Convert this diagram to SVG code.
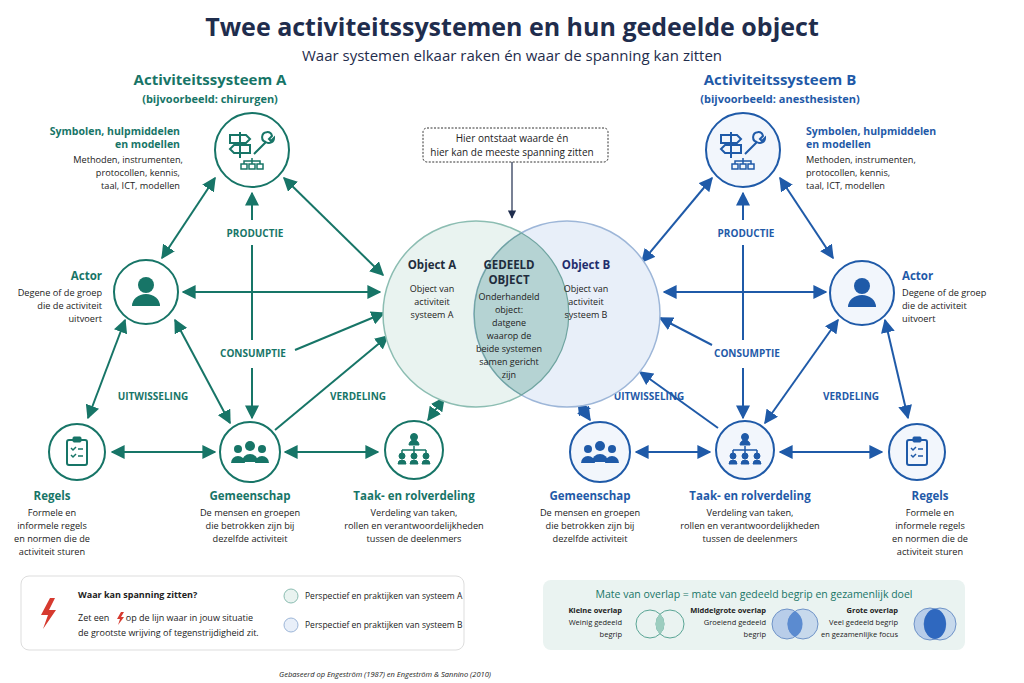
<svg xmlns="http://www.w3.org/2000/svg" width="1024" height="683" viewBox="0 0 1024 683">
<defs>
<marker id="ta" viewBox="0 0 10 10" refX="9" refY="5" markerWidth="7" markerHeight="7" orient="auto-start-reverse"><path d="M0,0 L10,5 L0,10 z" fill="#177567"/></marker>
<marker id="ba" viewBox="0 0 10 10" refX="9" refY="5" markerWidth="7" markerHeight="7" orient="auto-start-reverse"><path d="M0,0 L10,5 L0,10 z" fill="#1f5aa8"/></marker>
<marker id="ka" viewBox="0 0 10 10" refX="9" refY="5" markerWidth="7" markerHeight="7" orient="auto"><path d="M0,0 L10,5 L0,10 z" fill="#1f2d4d"/></marker>
<style>
text{font-family:"Open Sans","Liberation Sans",sans-serif;fill:#222}
.t{fill:#177567;font-weight:bold}
.b{fill:#1f5aa8;font-weight:bold}
.s{font-size:9.2px}
.ct{stroke:#177567;stroke-width:2;fill:none}
.nt{fill:#fff;stroke:#177567;stroke-width:2}
.nb{fill:#f2f6fc;stroke:#1f5aa8;stroke-width:2}
.lt{stroke:#177567;stroke-width:2;marker-start:url(#ta);marker-end:url(#ta)}
.lb{stroke:#1f5aa8;stroke-width:2;marker-start:url(#ba);marker-end:url(#ba)}
.et{stroke:#177567;stroke-width:2;marker-end:url(#ta)}
.eb{stroke:#1f5aa8;stroke-width:2;marker-end:url(#ba)}
</style>
<g id="tools">
<path d="M-12,-16 v26 M-22,-13 h16 l4,4 l-4,4 h-16 z M-2,-3 h-16 l-4,4 l4,4 h16 z" stroke-width="2" fill="none"/>
<path d="M2,6 L14,-6 M14,-6 a5,5 0 1 1 6,-6 l-3,3 l2,2 l3,-3 a5,5 0 0 1 -8,4" stroke-width="2" fill="none"/>
<path d="M2,16 v-3 h16 v3 M10,10 v6 M-1,16 h6 v5 h-6z M7,16 h6 v5 h-6z M15,16 h6 v5 h-6z" stroke-width="1.5" fill="none" transform="translate(-10,0)"/>
</g>
<g id="person"><circle cx="0" cy="-7" r="8"/><path d="M-14,14 a14,12 0 0 1 28,0 z"/></g>
<g id="group"><circle cx="0" cy="-6" r="5"/><path d="M-8,10 a8,8 0 0 1 16,0z"/><circle cx="-12" cy="-3" r="4"/><path d="M-19,11 a7,7 0 0 1 14,0z"/><circle cx="12" cy="-3" r="4"/><path d="M5,11 a7,7 0 0 1 14,0z"/></g>
<g id="clip"><rect x="-10" y="-12" width="20" height="25" rx="2" fill="none" stroke-width="2"/><rect x="-4" y="-15" width="8" height="5" rx="1"/><path d="M-6,-4 l2,2 l3,-3 M-6,3 l2,2 l3,-3" fill="none" stroke-width="1.5"/><path d="M1,-3 h5 M1,4 h5" stroke-width="1.5"/></g>
<g id="org"><circle cx="0" cy="-13" r="3.5"/><path d="M-5,-5 a5,5 0 0 1 10,0z"/><path d="M0,-4 v4 M-12,0 h24 M-12,0 v3 M0,0 v3 M12,0 v3" fill="none" stroke-width="1.5"/><circle cx="-12" cy="6" r="3"/><circle cx="0" cy="6" r="3"/><circle cx="12" cy="6" r="3"/><path d="M-16,14 a4,4 0 0 1 8,0z M-4,14 a4,4 0 0 1 8,0z M8,14 a4,4 0 0 1 8,0z"/></g>
</defs>
<rect width="1024" height="683" fill="#fff"/>
<text x="512" y="36" text-anchor="middle" font-size="25" font-weight="bold" style="fill:#1f2d4d">Twee activiteitssystemen en hun gedeelde object</text>
<text x="512" y="61" text-anchor="middle" font-size="15" style="fill:#1f2d4d">Waar systemen elkaar raken én waar de spanning kan zitten</text>
<text x="210" y="85" text-anchor="middle" font-size="15" class="t">Activiteitssysteem A</text>
<text x="210" y="103" text-anchor="middle" font-size="11" class="t">(bijvoorbeeld: chirurgen)</text>
<text x="780" y="85" text-anchor="middle" font-size="15" class="b">Activiteitssysteem B</text>
<text x="780" y="103" text-anchor="middle" font-size="11" class="b">(bijvoorbeeld: anesthesisten)</text>

<g id="connectors">
<line class="lt" x1="215" y1="178" x2="162" y2="258"/>
<line class="lt" x1="284" y1="178" x2="383" y2="275"/>
<line class="lt" x1="183" y1="292" x2="380" y2="292"/>
<line class="lt" x1="175" y1="320" x2="230" y2="423"/>
<line class="lt" x1="125" y1="320" x2="88" y2="418"/>
<line class="lt" x1="112" y1="452" x2="215" y2="452"/>
<line class="lt" x1="285" y1="452" x2="378" y2="452"/>
<line class="et" x1="252" y1="220" x2="252" y2="193"/>
<line x1="252" y1="245" x2="252" y2="340" stroke="#177567" stroke-width="2"/>
<line class="et" x1="252" y1="368" x2="252" y2="418"/>
<line class="et" x1="295" y1="350" x2="384" y2="313"/>
<line class="et" x1="275" y1="430" x2="388" y2="336"/>
<line class="lt" x1="428" y1="420" x2="444" y2="398"/>
<line class="lb" x1="780" y1="178" x2="833" y2="258"/>
<line class="lb" x1="712" y1="178" x2="642" y2="262"/>
<line class="lb" x1="826" y1="292" x2="664" y2="292"/>
<line class="lb" x1="838" y1="320" x2="765" y2="423"/>
<line class="lb" x1="885" y1="320" x2="908" y2="418"/>
<line class="lb" x1="780" y1="452" x2="882" y2="452"/>
<line class="lb" x1="636" y1="452" x2="710" y2="452"/>
<line class="eb" x1="743" y1="220" x2="743" y2="193"/>
<line x1="743" y1="245" x2="743" y2="340" stroke="#1f5aa8" stroke-width="2"/>
<line class="eb" x1="743" y1="368" x2="743" y2="418"/>
<line class="eb" x1="712" y1="345" x2="660" y2="318"/>
<line class="eb" x1="718" y1="428" x2="640" y2="372"/>
<line class="lb" x1="590" y1="420" x2="578" y2="402"/>
<line x1="512" y1="162" x2="512" y2="218" stroke="#1f2d4d" stroke-width="1.2" marker-end="url(#ka)"/>
</g>

<text x="255" y="237" text-anchor="middle" font-size="10" class="t">PRODUCTIE</text>
<text x="253" y="357" text-anchor="middle" font-size="10" class="t">CONSUMPTIE</text>
<text x="153" y="400" text-anchor="middle" font-size="10" class="t">UITWISSELING</text>
<text x="358" y="400" text-anchor="middle" font-size="10" class="t">VERDELING</text>
<text x="746" y="237" text-anchor="middle" font-size="10" class="b">PRODUCTIE</text>
<text x="747" y="357" text-anchor="middle" font-size="10" class="b">CONSUMPTIE</text>
<text x="649" y="400" text-anchor="middle" font-size="10" class="b">UITWISSELING</text>
<text x="851" y="400" text-anchor="middle" font-size="10" class="b">VERDELING</text>

<g id="callout">
<rect x="423" y="128" width="185" height="34" rx="4" fill="#fff" stroke="#333" stroke-width="1" stroke-dasharray="2,1.5"/>
<text x="512" y="142" text-anchor="middle" font-size="10">Hier ontstaat waarde én</text>
<text x="512" y="156" text-anchor="middle" font-size="10">hier kan de meeste spanning zitten</text>
</g>

<g id="objects">
<circle cx="476" cy="314" r="93" fill="#e9f3f0" stroke="#8cbdb2" stroke-width="1.5"/>
<circle cx="567" cy="314" r="93" fill="#e8eff9" stroke="#9db6d8" stroke-width="1.5"/>
<path d="M521.5,233 A93,93 0 0 1 521.5,395 A93,93 0 0 1 521.5,233 z" fill="#b5d3d3" stroke="#6fa4a0" stroke-width="1.2"/>
<text x="432" y="269" text-anchor="middle" font-size="11.5" font-weight="bold" style="fill:#1f2d3d">Object A</text>
<text x="432" y="292" text-anchor="middle" font-size="9">Object van</text>
<text x="432" y="305" text-anchor="middle" font-size="9">activiteit</text>
<text x="432" y="318" text-anchor="middle" font-size="9">systeem A</text>
<text x="586" y="269" text-anchor="middle" font-size="11.5" font-weight="bold" style="fill:#1f2d6d">Object B</text>
<text x="586" y="292" text-anchor="middle" font-size="9">Object van</text>
<text x="586" y="305" text-anchor="middle" font-size="9">activiteit</text>
<text x="586" y="318" text-anchor="middle" font-size="9">systeem B</text>
<text x="509" y="269" text-anchor="middle" font-size="11.5" font-weight="bold" style="fill:#1f2d3d">GEDEELD</text>
<text x="509" y="284" text-anchor="middle" font-size="11.5" font-weight="bold" style="fill:#1f2d3d">OBJECT</text>
<text x="509" y="300" text-anchor="middle" font-size="9">Onderhandeld</text>
<text x="509" y="313" text-anchor="middle" font-size="9">object:</text>
<text x="509" y="326" text-anchor="middle" font-size="9">datgene</text>
<text x="509" y="339" text-anchor="middle" font-size="9">waarop de</text>
<text x="509" y="352" text-anchor="middle" font-size="9">beide systemen</text>
<text x="509" y="365" text-anchor="middle" font-size="9">samen gericht</text>
<text x="509" y="378" text-anchor="middle" font-size="9">zijn</text>
</g>

<g id="symbolenA">
<circle class="nt" cx="252" cy="150" r="37"/>
<use href="#tools" transform="translate(252,148)" stroke="#177567" fill="#177567"/>
<text x="180" y="135" text-anchor="end" font-size="10.5" class="t">Symbolen, hulpmiddelen</text>
<text x="180" y="148" text-anchor="end" font-size="10.5" class="t">en modellen</text>
<text x="183" y="163" text-anchor="end" class="s">Methoden, instrumenten,</text>
<text x="180" y="176" text-anchor="end" class="s">protocollen, kennis,</text>
<text x="180" y="189" text-anchor="end" class="s">taal, ICT, modellen</text>
</g>
<g id="actorA">
<circle class="nt" cx="146" cy="292" r="32"/>
<use href="#person" transform="translate(146,292)" fill="#177567"/>
<text x="102" y="280" text-anchor="end" font-size="11.5" class="t">Actor</text>
<text x="102" y="296" text-anchor="end" class="s">Degene of de groep</text>
<text x="102" y="309" text-anchor="end" class="s">die de activiteit</text>
<text x="102" y="322" text-anchor="end" class="s">uitvoert</text>
</g>
<g id="regelsA">
<circle class="nt" cx="77" cy="452" r="28"/>
<use href="#clip" transform="translate(77,452)" stroke="#177567" fill="#177567"/>
<text x="52" y="500" text-anchor="middle" font-size="11.5" class="t">Regels</text>
<text x="52" y="516" text-anchor="middle" class="s">Formele en</text>
<text x="52" y="529" text-anchor="middle" class="s">informele regels</text>
<text x="52" y="542" text-anchor="middle" class="s">en normen die de</text>
<text x="52" y="555" text-anchor="middle" class="s">activiteit sturen</text>
</g>
<g id="gemeenschapA">
<circle class="nt" cx="250" cy="452" r="30"/>
<use href="#group" transform="translate(250,452)" fill="#177567"/>
<text x="250" y="500" text-anchor="middle" font-size="11.5" class="t">Gemeenschap</text>
<text x="250" y="516" text-anchor="middle" class="s">De mensen en groepen</text>
<text x="250" y="529" text-anchor="middle" class="s">die betrokken zijn bij</text>
<text x="250" y="542" text-anchor="middle" class="s">dezelfde activiteit</text>
</g>
<g id="taakA">
<circle class="nt" cx="414" cy="450" r="29"/>
<use href="#org" transform="translate(414,450)" stroke="#177567" fill="#177567"/>
<text x="414" y="500" text-anchor="middle" font-size="11.5" class="t">Taak- en rolverdeling</text>
<text x="414" y="516" text-anchor="middle" class="s">Verdeling van taken,</text>
<text x="414" y="529" text-anchor="middle" class="s">rollen en verantwoordelijkheden</text>
<text x="414" y="542" text-anchor="middle" class="s">tussen de deelenmers</text>
</g>

<g id="symbolenB">
<circle class="nb" cx="743" cy="150" r="37"/>
<use href="#tools" transform="translate(743,148)" stroke="#1f5aa8" fill="#1f5aa8"/>
<text x="806" y="135" font-size="10.5" class="b">Symbolen, hulpmiddelen</text>
<text x="806" y="148" font-size="10.5" class="b">en modellen</text>
<text x="806" y="163" class="s">Methoden, instrumenten,</text>
<text x="806" y="176" class="s">protocollen, kennis,</text>
<text x="806" y="189" class="s">taal, ICT, modellen</text>
</g>
<g id="actorB">
<circle class="nb" cx="862" cy="293" r="32"/>
<use href="#person" transform="translate(862,293)" fill="#1f5aa8"/>
<text x="902" y="280" font-size="11.5" class="b">Actor</text>
<text x="902" y="296" class="s">Degene of de groep</text>
<text x="902" y="309" class="s">die de activiteit</text>
<text x="902" y="322" class="s">uitvoert</text>
</g>
<g id="gemeenschapB">
<circle class="nb" cx="600" cy="452" r="30"/>
<use href="#group" transform="translate(600,452)" fill="#1f5aa8"/>
<text x="590" y="500" text-anchor="middle" font-size="11.5" class="b">Gemeenschap</text>
<text x="590" y="516" text-anchor="middle" class="s">De mensen en groepen</text>
<text x="590" y="529" text-anchor="middle" class="s">die betrokken zijn bij</text>
<text x="590" y="542" text-anchor="middle" class="s">dezelfde activiteit</text>
</g>
<g id="taakB">
<circle class="nb" cx="745" cy="450" r="29"/>
<use href="#org" transform="translate(745,450)" stroke="#1f5aa8" fill="#1f5aa8"/>
<text x="750" y="500" text-anchor="middle" font-size="11.5" class="b">Taak- en rolverdeling</text>
<text x="750" y="516" text-anchor="middle" class="s">Verdeling van taken,</text>
<text x="750" y="529" text-anchor="middle" class="s">rollen en verantwoordelijkheden</text>
<text x="750" y="542" text-anchor="middle" class="s">tussen de deelenmers</text>
</g>
<g id="regelsB">
<circle class="nb" cx="917" cy="452" r="28"/>
<use href="#clip" transform="translate(917,452)" stroke="#1f5aa8" fill="#1f5aa8"/>
<text x="930" y="500" text-anchor="middle" font-size="11.5" class="b">Regels</text>
<text x="930" y="516" text-anchor="middle" class="s">Formele en</text>
<text x="930" y="529" text-anchor="middle" class="s">informele regels</text>
<text x="930" y="542" text-anchor="middle" class="s">en normen die de</text>
<text x="930" y="555" text-anchor="middle" class="s">activiteit sturen</text>
</g>

<g id="legend1">
<rect x="21" y="576" width="443" height="74" rx="8" fill="#fff" stroke="#ddd"/>
<path d="M50,598 l-9,17 h7 l-5,14 l13,-19 h-7 l6,-12 z" fill="#d63a2f"/>
<text x="78" y="598" font-size="9" font-weight="bold">Waar kan spanning zitten?</text>
<text x="78" y="621" font-size="9">Zet een <tspan dx="14">op de lijn waar in jouw situatie</tspan></text>
<path d="M121,612 l-4,7 h3 l-2,6 l6,-8 h-3 l3,-5 z" fill="#d63a2f"/>
<text x="78" y="636" font-size="9">de grootste wrijving of tegenstrijdigheid zit.</text>
<circle cx="291" cy="596" r="7" fill="#e9f3f0" stroke="#8cbdb2"/>
<text x="305" y="599" font-size="8.5">Perspectief en praktijken van systeem A</text>
<circle cx="291" cy="625" r="7" fill="#e8eff9" stroke="#9db6d8"/>
<text x="305" y="628" font-size="8.5">Perspectief en praktijken van systeem B</text>
</g>
<g id="legend2">
<rect x="543" y="580" width="422" height="70" rx="8" fill="#eaf3f1"/>
<text x="754" y="598" text-anchor="middle" font-size="10.5" style="fill:#177567">Mate van overlap = mate van gedeeld begrip en gezamenlijk doel</text>
<text x="622" y="613" text-anchor="end" font-size="7.5" font-weight="bold">Kleine overlap</text>
<text x="622" y="625" text-anchor="end" font-size="7.5">Weinig gedeeld</text>
<text x="622" y="637" text-anchor="end" font-size="7.5">begrip</text>
<circle cx="650" cy="624" r="14" fill="none" stroke="#5aa595"/>
<circle cx="670" cy="624" r="14" fill="none" stroke="#5aa595"/>
<path d="M660,614 a14,14 0 0 1 0,20 a14,14 0 0 1 0,-20z" fill="#9ccdbf"/>
<text x="766" y="613" text-anchor="end" font-size="7.5" font-weight="bold">Middelgrote overlap</text>
<text x="766" y="625" text-anchor="end" font-size="7.5">Groeiend gedeeld</text>
<text x="766" y="637" text-anchor="end" font-size="7.5">begrip</text>
<circle cx="787" cy="624" r="15" fill="#b8cde9" stroke="#6f93c8"/>
<circle cx="803" cy="624" r="15" fill="#b8cde9" fill-opacity="0.7" stroke="#6f93c8"/>
<path d="M795,611 a15,15 0 0 1 0,26 a15,15 0 0 1 0,-26z" fill="#5b8bd0"/>
<text x="898" y="613" text-anchor="end" font-size="7.5" font-weight="bold">Grote overlap</text>
<text x="898" y="625" text-anchor="end" font-size="7.5">Veel gedeeld begrip</text>
<text x="898" y="637" text-anchor="end" font-size="7.5">en gezamenlijke focus</text>
<circle cx="930" cy="624" r="16" fill="#b8cde9" stroke="#6f93c8"/>
<circle cx="940" cy="624" r="16" fill="#b8cde9" fill-opacity="0.7" stroke="#6f93c8"/>
<ellipse cx="935" cy="624" rx="11" ry="15" fill="#2f68bf"/>
</g>
<text x="385" y="677" text-anchor="middle" font-size="7.5" font-style="italic">Gebaseerd op Engeström (1987) en Engeström &amp; Sannino (2010)</text>
</svg>
